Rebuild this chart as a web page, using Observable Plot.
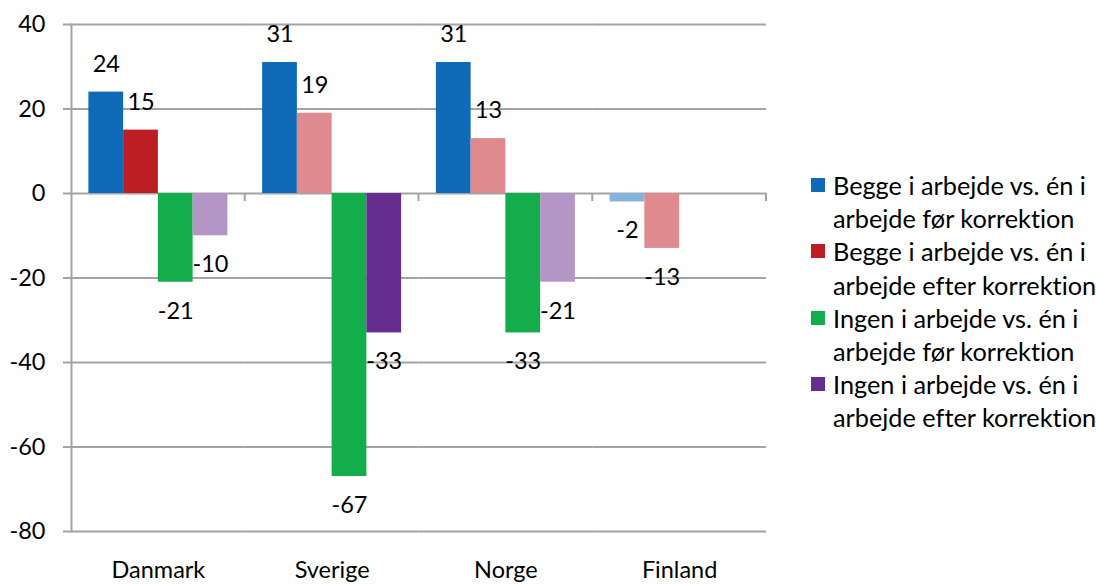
<!DOCTYPE html>
<html>
<head>
<meta charset="utf-8">
<script src="https://cdn.jsdelivr.net/npm/d3@7"></script>
<script src="https://cdn.jsdelivr.net/npm/@observablehq/plot@0.6"></script>
<style>
  html, body { margin: 0; padding: 0; background: #fff; }
  #wrap { position: relative; width: 1096px; height: 584px; overflow: hidden; font-family: Lato, "Open Sans", sans-serif; font-variant-ligatures: none; font-feature-settings: "liga" 0; }
  #chart { position: absolute; left: 0; top: 0; }
  #chart svg text { font-variant-ligatures: none; }
  #legend { position: absolute; left: 811px; top: 169px; font-size: 25.3px; color: #000; }
  .item { position: relative; padding-left: 22px; line-height: 33.2px; white-space: nowrap; }
  .sw { position: absolute; left: 0; top: 9px; width: 14px; height: 14px; }
</style>
</head>
<body>
<div id="wrap">
  <div id="chart"></div>
  <div id="legend"></div>
</div>
<script>
const countries = ["Danmark", "Sverige", "Norge", "Finland"];
const seriesLabels = [
  "Begge i arbejde vs. én i arbejde før korrektion",
  "Begge i arbejde vs. én i arbejde efter korrektion",
  "Ingen i arbejde vs. én i arbejde før korrektion",
  "Ingen i arbejde vs. én i arbejde efter korrektion"
];
const beggeFoer   = [24, 31, 31, -2];
const beggeEfter  = [15, 19, 13, -13];
const ingenFoer   = [-21, -67, -33, null];
const ingenEfter  = [-10, -33, -21, null];
// strong (true) or faded (false) shade per bar
const beggeFoerStrong  = [true, true, true, false];
const beggeEfterStrong = [true, false, false, false];
const ingenFoerStrong  = [true, true, true, true];
const ingenEfterStrong = [false, true, false, true];
const yTicks = [-80, -60, -40, -20, 0, 20, 40];

const strongColors = ["#0F6BB7", "#BD1E24", "#14AD4B", "#662D91"];
const fadedColors  = ["#84B4DC", "#DE8A8E", "#8AD6A5", "#B496C6"];

const seriesValues = [beggeFoer, beggeEfter, ingenFoer, ingenEfter];
const seriesStrong = [beggeFoerStrong, beggeEfterStrong, ingenFoerStrong, ingenEfterStrong];

const data = [];
countries.forEach((c, ci) => {
  seriesLabels.forEach((s, si) => {
    const v = seriesValues[si][ci];
    if (v == null) return;
    data.push({
      country: c,
      series: s,
      value: v,
      color: seriesStrong[si][ci] ? strongColors[si] : fadedColors[si]
    });
  });
});

const gridColor = "#A3A3A3";
const fontFamily = "Lato, 'Open Sans', sans-serif";
const fs = 23.5;

// small tick marks at category boundaries on the zero line
function boundaryTick(index, scales, values, dimensions, context) {
  const g = d3.create("svg:g");
  const x = scales.x;
  const r = x.range ? x.range() : [0, 0];
  const y0 = scales.y(0);
  g.append("line")
    .attr("x1", r[1]).attr("x2", r[1])
    .attr("y1", y0).attr("y2", y0 + 8)
    .attr("stroke", gridColor).attr("stroke-width", 2);
  return g.node();
}

const chart = Plot.plot({
  width: 780,
  height: 584,
  marginLeft: 71,
  marginRight: 14,
  marginTop: 24,
  marginBottom: 53,
  style: { fontFamily, fontSize: fs + "px", color: "#000", background: "#fff" },
  fx: { domain: countries, padding: 0, round: false, label: null },
  x: { domain: seriesLabels, paddingInner: 0, paddingOuter: 0.5, round: false, axis: null },
  y: { domain: [-80, 40], label: null },
  color: { type: "identity" },
  marks: [
    Plot.gridY(yTicks, { stroke: gridColor, strokeOpacity: 1, strokeWidth: 2 }),
    Plot.ruleY([0], { render: boundaryTick }),
    Plot.barY(data, { fx: "country", x: "series", y: "value", fill: "color", inset: 0 }),
    Plot.text(data.filter(d => d.value >= 0), {
      fx: "country", x: "series", y: "value", text: d => String(d.value),
      dy: -28, fill: "#000", fontSize: fs
    }),
    Plot.text(data.filter(d => d.value < 0), {
      fx: "country", x: "series", y: "value", text: d => String(d.value),
      dy: 29, fill: "#000", fontSize: fs
    }),
    Plot.frame({ anchor: "left", facetAnchor: "left", stroke: gridColor, strokeWidth: 2 }),
    Plot.axisY(yTicks, {
      anchor: "left", tickSize: 8, tickPadding: 18, stroke: gridColor, strokeWidth: 2,
      strokeOpacity: 1, fill: "#000", fontSize: fs, tickFormat: d => String(d)
    }),
    Plot.axisFx({ anchor: "bottom", tickSize: 0, tickPadding: 30, fill: "#000", fontSize: fs, label: null })
  ]
});
document.getElementById("chart").appendChild(chart);

const legend = document.getElementById("legend");
seriesLabels.forEach((label, i) => {
  const idx = label.indexOf("én i ") + 4;
  const item = document.createElement("div");
  item.className = "item";
  const sw = document.createElement("span");
  sw.className = "sw";
  sw.style.background = strongColors[i];
  item.appendChild(sw);
  item.appendChild(document.createTextNode(label.slice(0, idx)));
  item.appendChild(document.createElement("br"));
  item.appendChild(document.createTextNode(label.slice(idx + 1)));
  legend.appendChild(item);
});
</script>
</body>
</html>
